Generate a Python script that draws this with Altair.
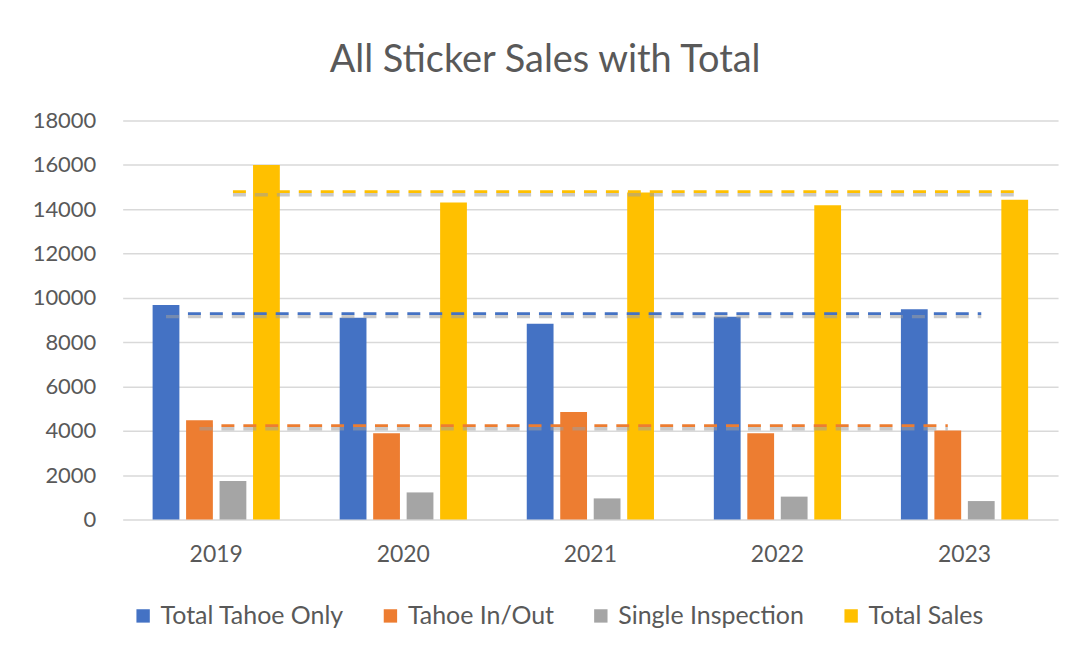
import altair as alt
import pandas as pd

years = ["2019", "2020", "2021", "2022", "2023"]
series_names = ["Total Tahoe Only", "Tahoe In/Out", "Single Inspection", "Total Sales"]
total_tahoe_only = [9680, 9100, 8830, 9150, 9480]
tahoe_in_out = [4480, 3890, 4850, 3890, 4010]
single_inspection = [1730, 1220, 950, 1030, 830]
total_sales = [16000, 14300, 14750, 14180, 14430]
colors = ["#4472C4", "#ED7D31", "#A5A5A5", "#FFC000"]

# flat dashed reference (average) lines
avg_series = ["Total Tahoe Only", "Tahoe In/Out", "Total Sales"]
avg_values = [9290, 4230, 14790]
avg_start_year = ["2019", "2019", "2019"]
avg_end_year = ["2023", "2023", "2023"]
avg_start_anchor = ["Total Tahoe Only", "Tahoe In/Out", "Single Inspection"]
avg_end_anchor = ["Single Inspection", "Tahoe In/Out", "Total Sales"]

rows = []
for name, vals in zip(series_names, [total_tahoe_only, tahoe_in_out, single_inspection, total_sales]):
    for y, v in zip(years, vals):
        rows.append({"year": y, "series": name, "value": v})
bars_df = pd.DataFrame(rows)

line_rows = []
for name, v, y0, y1, a0, a1 in zip(avg_series, avg_values, avg_start_year, avg_end_year,
                                   avg_start_anchor, avg_end_anchor):
    line_rows.append({"year": y0, "series": name, "anchor": a0, "value": v, "ord": 0})
    line_rows.append({"year": y1, "series": name, "anchor": a1, "value": v, "ord": 1})
lines_df = pd.DataFrame(line_rows)

FONT = "Lato"
TXT = "#595959"

x_enc = alt.X("year:N", title=None, sort=years,
              scale=alt.Scale(paddingInner=0.32, paddingOuter=0.16),
              axis=alt.Axis(labelAngle=0, labelFontSize=23, labelColor=TXT, labelFont=FONT,
                            ticks=False, domain=False, grid=False, labelPadding=24))
y_enc = alt.Y("value:Q", title=None,
              scale=alt.Scale(domain=[0, 18000]),
              axis=alt.Axis(values=list(range(0, 18001, 2000)), format="d", labelFontSize=22,
                            labelColor=TXT, labelFont=FONT, ticks=False, domain=False,
                            labelPadding=27, gridColor="#D9D9D9", gridWidth=1.5))
xoff_scale = alt.Scale(domain=series_names, paddingInner=0.2, paddingOuter=0)
xoff = alt.XOffset("series:N", sort=series_names, scale=xoff_scale)
xoff_anchor = alt.XOffset("anchor:N", sort=series_names, scale=xoff_scale)
color = alt.Color("series:N", sort=series_names,
                  scale=alt.Scale(domain=series_names, range=colors),
                  legend=alt.Legend(title=None, orient="none", legendX=8, legendY=484,
                                    direction="horizontal", labelLimit=0,
                                    symbolType="square", symbolSize=180, labelFontSize=25,
                                    labelColor=TXT, labelFont=FONT, columnPadding=34,
                                    labelOffset=5, symbolStrokeWidth=0))

bars = alt.Chart(bars_df).mark_bar().encode(x=x_enc, y=y_enc, xOffset=xoff, color=color)

shadow = alt.Chart(lines_df).mark_line(strokeDash=[13, 9], strokeWidth=3.5, color="#9E9E9E",
                                       opacity=0.55, yOffset=3).encode(
    x=x_enc, y=y_enc, xOffset=xoff_anchor, detail="series:N", order="ord:Q")
lines = alt.Chart(lines_df).mark_line(strokeDash=[13, 9], strokeWidth=2.8).encode(
    x=x_enc, y=y_enc, xOffset=xoff_anchor, color=color, order="ord:Q")

chart = alt.layer(bars, shadow, lines).properties(
    width=938, height=400, background="white",
    title=alt.Title("All Sticker Sales with Total", fontSize=38, font=FONT, color=TXT,
                    fontWeight="normal", anchor="middle", frame="bounds", offset=30),
    padding={"left": 24, "top": 33, "right": 20, "bottom": 10},
).configure_view(strokeWidth=0)

chart.save("out.html", embed_options={"renderer": "svg", "actions": False})
